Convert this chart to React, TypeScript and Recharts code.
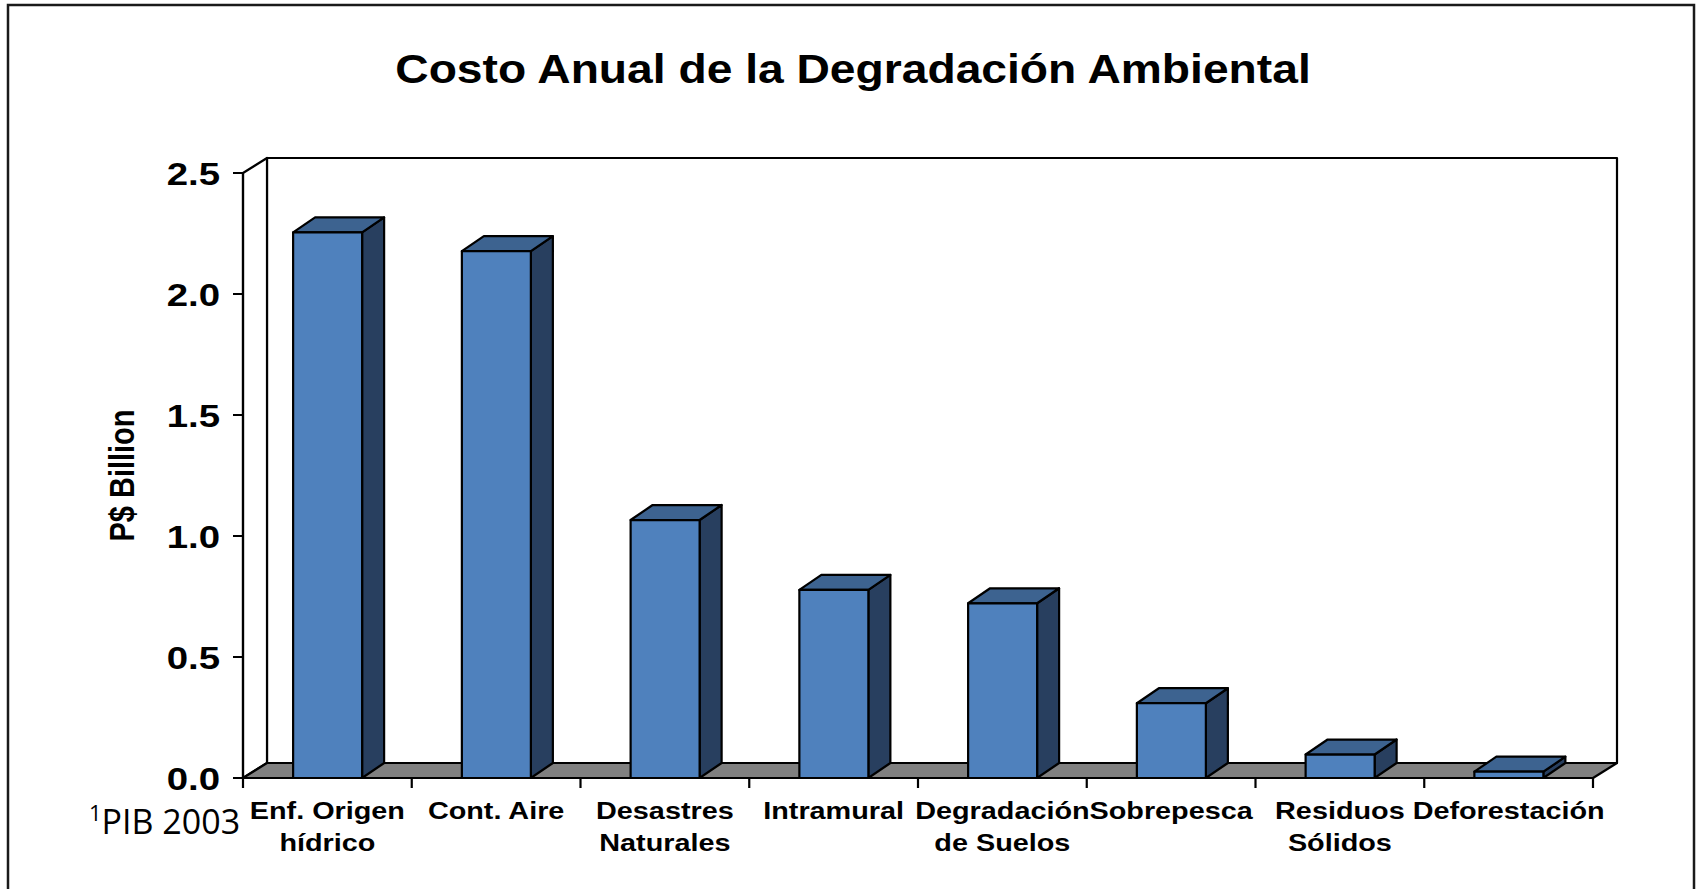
import React from "react";
import { Bar, BarChart, ReferenceArea, XAxis, YAxis } from "recharts";

// valores (P$ Billion)
const categories = [
  "Enf. Origen\nhídrico",
  "Cont. Aire",
  "Desastres\nNaturales",
  "Intramural",
  "Degradación\nde Suelos",
  "Sobrepesca",
  "Residuos\nSólidos",
  "Deforestación",
];
const costs = [2.255, 2.177, 1.066, 0.777, 0.722, 0.309, 0.097, 0.026];
const yTicks = [0, 0.5, 1.0, 1.5, 2.0, 2.5];

const data = categories.map((name, i) => ({ name, value: costs[i] }));

const FRONT = "#4F81BD";
const TOP = "#3D6390";
const SIDE = "#283F5F";
const FLOOR = "#808080";
const INK = "#000";
const ARIAL = "'Liberation Sans', Arial, sans-serif";
const SX = 1.2; // la imagen original está estirada a lo ancho

// profundidad 3D
const WALL_DX = 24;
const WALL_DY = 15;
const BAR_DX = 22;
const BAR_DY = 15;

function Bar3D(props: any) {
  const { x, y, width, height } = props;
  if (width == null || height == null) return null;
  const r = x + width;
  const b = y + height;
  return (
    <g stroke={INK} strokeWidth={2.2} strokeLinejoin="round">
      <polygon
        points={`${r},${y} ${r + BAR_DX},${y - BAR_DY} ${r + BAR_DX},${b - BAR_DY} ${r},${b}`}
        fill={SIDE}
      />
      <polygon
        points={`${x},${y} ${x + BAR_DX},${y - BAR_DY} ${r + BAR_DX},${y - BAR_DY} ${r},${y}`}
        fill={TOP}
      />
      <rect x={x} y={y} width={width} height={height} fill={FRONT} />
    </g>
  );
}

// pared del fondo, pared lateral, piso y marcas entre categorías
function Walls(props: any) {
  const { x, y, width, height } = props;
  if (width == null || height == null) return null;
  const b = y + height;
  const r = x + width;
  const step = width / categories.length;
  return (
    <g stroke={INK} strokeWidth={2.2} strokeLinejoin="round">
      <rect x={x + WALL_DX} y={y - WALL_DY} width={width} height={height} fill="#fff" />
      <polygon
        points={`${x},${y} ${x + WALL_DX},${y - WALL_DY} ${x + WALL_DX},${b - WALL_DY} ${x},${b}`}
        fill="#fff"
      />
      <polygon
        points={`${x},${b} ${x + WALL_DX},${b - WALL_DY} ${r + WALL_DX},${b - WALL_DY} ${r},${b}`}
        fill={FLOOR}
      />
      {[...categories, ""].map((_, i) => (
        <line key={i} x1={x + i * step} x2={x + i * step} y1={b} y2={b + 10} />
      ))}
    </g>
  );
}

function YTick(props: any) {
  const { x, y, payload } = props;
  return (
    <text
      transform={`translate(${x},${y}) scale(${SX},1)`}
      textAnchor="end"
      dy="0.36em"
      fontFamily={ARIAL}
      fontWeight="bold"
      fontSize={32}
      fill={INK}
    >
      {Number(payload.value).toFixed(1)}
    </text>
  );
}

function XTick(props: any) {
  const { x, y, payload } = props;
  const lines = String(payload.value).split("\n");
  return (
    <g transform={`translate(${x},${y}) scale(${SX},1)`}>
      {lines.map((ln, i) => (
        <text
          key={i}
          x={0}
          y={41 + i * 32}
          textAnchor="middle"
          fontFamily={ARIAL}
          fontWeight="bold"
          fontSize={24}
          fill={INK}
        >
          {ln}
        </text>
      ))}
    </g>
  );
}

function YLabel(props: any) {
  const vb = props.viewBox || {};
  const cx = vb.x - 22;
  const cy = vb.y + vb.height / 2;
  return (
    <text
      transform={`translate(${cx},${cy}) scale(${SX},1) rotate(-90)`}
      textAnchor="middle"
      dy="0.36em"
      fontFamily={ARIAL}
      fontWeight="bold"
      fontSize={29}
      fill={INK}
    >
      P$ Billion
    </text>
  );
}

export default function App() {
  return (
    <div style={{ position: "relative", width: 1698, height: 889, overflow: "hidden", background: "#fff" }}>
      <style>{"body{margin:0}"}</style>
      <BarChart
        width={1698}
        height={889}
        data={data}
        margin={{ top: 173, right: 105, bottom: 11, left: 143 }}
        barCategoryGap="29.7%"
      >
        <XAxis
          dataKey="name"
          height={100}
          tickSize={0}
          tickMargin={0}
          tickLine={false}
          axisLine={false}
          interval={0}
          tick={<XTick />}
        />
        <YAxis
          width={100}
          domain={[0, 2.5]}
          ticks={yTicks}
          allowDataOverflow
          tickSize={10}
          tickMargin={13}
          tickLine={{ stroke: INK, strokeWidth: 2 }}
          axisLine={{ stroke: INK, strokeWidth: 2.2 }}
          tick={<YTick />}
          label={<YLabel />}
        />
        <ReferenceArea y1={0} y2={2.5} ifOverflow="visible" shape={(p: any) => <Walls {...p} />} />
        <Bar dataKey="value" isAnimationActive={false} shape={(p: any) => <Bar3D {...p} />} />
      </BarChart>
      <svg
        width={1698}
        height={889}
        style={{ position: "absolute", left: 0, top: 0, pointerEvents: "none" }}
      >
        <rect x={8} y={5} width={1686} height={1000} fill="none" stroke="#1a1a1a" strokeWidth={2.5} />
        <text
          transform={`translate(853,83) scale(1.155,1)`}
          textAnchor="middle"
          fontFamily={ARIAL}
          fontWeight="bold"
          fontSize={40}
          fill={INK}
        >
          Costo Anual de la Degradación Ambiental
        </text>
        <text x={89} y={834} fontFamily="'Open Sans', sans-serif" fill={INK}>
          <tspan fontSize={22} dy={-13}>1</tspan>
          <tspan fontSize={34} dy={13}>PIB 2003</tspan>
        </text>
      </svg>
    </div>
  );
}
